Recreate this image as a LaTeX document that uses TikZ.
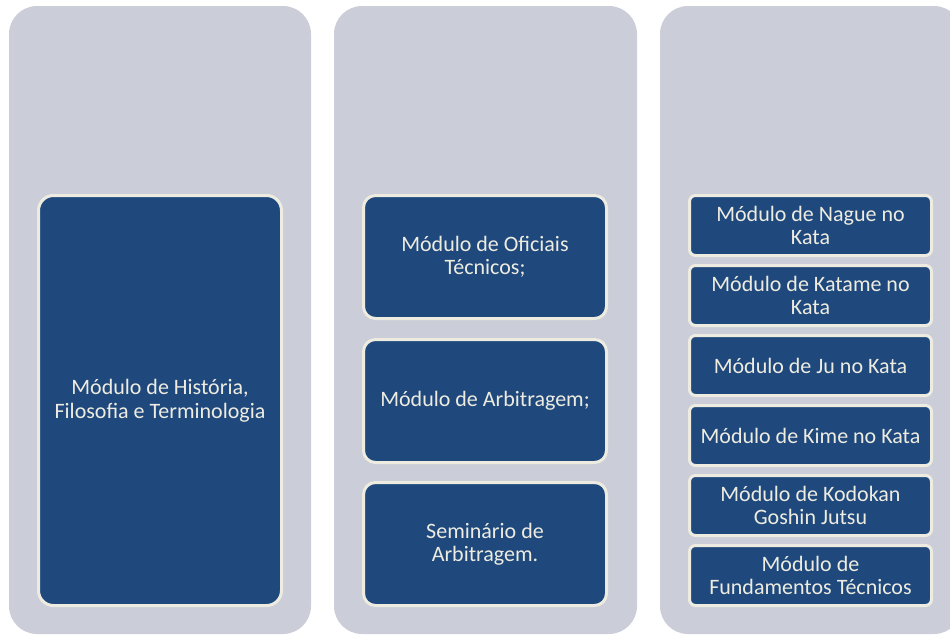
\documentclass[tikz,border=0pt]{standalone}
\usepackage{fontspec}
\setmainfont{Carlito}
\definecolor{colgrey}{HTML}{CBCED8}
\definecolor{boxblue}{HTML}{1F497D}
\definecolor{cream}{HTML}{EEECE1}
\begin{document}
\begin{tikzpicture}[x=1pt,y=-1pt,
  column/.style={fill=colgrey,draw=none,rounded corners=28pt},
  modbox/.style={fill=boxblue,draw=cream,line width=3pt,text=cream,align=center,
    font=\fontsize{22}{23.5}\selectfont,inner sep=0pt},
]
\useasboundingbox (0,0) rectangle (950,635);
\begin{scope}
\clip (0,0) rectangle (950,635);
\fill[column] (9,6) rectangle (311,634);
\fill[column] (334,6) rectangle (637,634);
\fill[column] (660,6) rectangle (962,634);
\end{scope}
% column 1
\node[modbox,rounded corners=15pt,minimum width=243pt,minimum height=410pt] (hist) at (160,400.5)
  {Módulo de História,\\Filosofia e Terminologia};
% column 2
\node[modbox,rounded corners=12pt,minimum width=243pt,minimum height=123pt] (ofic) at (485,257)
  {Módulo de Oficiais\\Técnicos;};
\node[modbox,rounded corners=12pt,minimum width=243pt,minimum height=123pt] (arb) at (485,401)
  {Módulo de Arbitragem;};
\node[modbox,rounded corners=12pt,minimum width=243pt,minimum height=123pt] (sem) at (485,544)
  {Seminário de\\Arbitragem.};
% column 3
\foreach \i/\name/\txt in {0/nague/{Módulo de Nague no\\Kata},
  1/katame/{Módulo de Katame no\\Kata},
  2/ju/{Módulo de Ju no Kata},
  3/kime/{Módulo de Kime no Kata},
  4/goshin/{Módulo de Kodokan\\Goshin Jutsu},
  5/fund/{Módulo de\\Fundamentos Técnicos}}
  \node[modbox,rounded corners=6pt,minimum width=242pt,minimum height=60pt] (\name) at (810.5,225.5+70*\i) {\txt};
\end{tikzpicture}
\end{document}
